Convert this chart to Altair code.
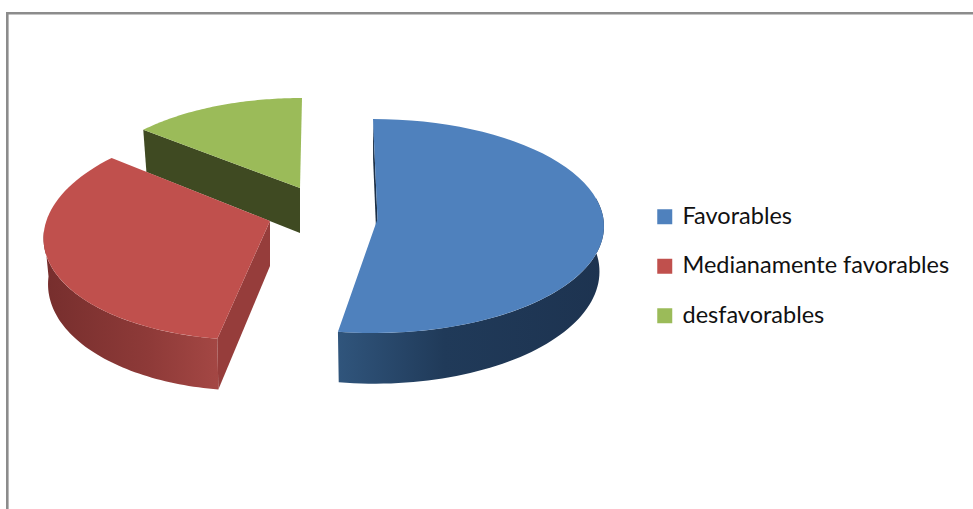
import altair as alt
import numpy as np
import pandas as pd

# Survey shares, percent of answers
categories = ["Favorables", "Medianamente favorables", "desfavorables"]
shares = [52.5, 34.2, 13.3]
top_colors = ["#4F81BD", "#C0504D", "#9BBB59"]

# Projected ellipse of each exploded slice: centre, radii, shear and apex
ellipses = {
    "Favorables": dict(cx=373.5, cy=226, a=230.5, b=107, lean=-0.5, ax=377.5, ay=219),
    "Medianamente favorables": dict(cx=267, cy=231, a=223, b=109, lean=15, ax=270, ay=221),
    "desfavorables": dict(cx=302, cy=194.7, a=214, b=96.7, lean=0, ax=300, ay=188),
}
DEPTH, SHRINK_X, STRETCH_Y = 45, 0.98, 1.05

W, H = 973, 509
x_scale = alt.Scale(domain=[0, W], nice=False, zero=False)
y_scale = alt.Scale(domain=[H, 0], nice=False, zero=False)


def rim(name, start, end):
    e = ellipses[name]
    t = np.radians(np.arange(start, end + 0.01, (end - start) / 60))
    u, v = np.sin(t), np.cos(t)
    return e["cx"] + e["a"] * u + e["lean"] * v, e["cy"] - e["b"] * v


def lower(name, xs, ys):
    e = ellipses[name]
    xs, ys = np.asarray(xs, float), np.asarray(ys, float)
    return e["ax"] + SHRINK_X * (xs - e["ax"]), e["ay"] + DEPTH + STRETCH_Y * (ys - e["ay"])


def frame(xs, ys, name):
    return pd.DataFrame({"x": xs, "y": ys, "i": range(len(xs)), "category": name})


def polygon(df, **mark):
    return alt.Chart(df).mark_line(filled=True, **mark).encode(
        x=alt.X("x:Q", scale=x_scale, axis=None),
        y=alt.Y("y:Q", scale=y_scale, axis=None),
        order="i:Q",
    )


def side(name, start, end):
    tx, ty = rim(name, start, end)
    bx, by = lower(name, tx, ty)
    return frame(np.r_[tx, bx[::-1]], np.r_[ty, by[::-1]], name)


def cut(name, angle):
    e = ellipses[name]
    rx, ry = rim(name, angle, angle + 1)
    px, py = [rx[0], e["ax"]], [ry[0], e["ay"]]
    bx, by = lower(name, px, py)
    return frame(np.r_[px, bx[::-1]], np.r_[py, by[::-1]], name)


def top(name, start, end):
    e = ellipses[name]
    rx, ry = rim(name, start, end)
    return frame(np.r_[e["ax"], rx], np.r_[e["ay"], ry], name)


def shade(*stops):
    return alt.Gradient(
        gradient="linear", x1=0, x2=1, y1=0, y2=0,
        stops=[alt.GradientStop(offset=o, color=c) for o, c in stops],
    )


# Cumulative angles, clockwise from the back of the pie
edges = np.r_[0, np.cumsum(shares)] * 3.6
spans = {c: (edges[i], edges[i + 1]) for i, c in enumerate(categories)}
fav, med, des = categories

color = alt.Color(
    "category:N",
    scale=alt.Scale(domain=categories, range=top_colors),
    legend=alt.Legend(
        title=None, orient="none", legendX=653, legendY=205,
        symbolType="square", symbolSize=225, symbolStrokeWidth=0, symbolOffset=0,
        labelFont="Lato", labelFontSize=23.5, labelColor="#111111", labelLimit=400,
        labelOffset=6, rowPadding=24.5, padding=0,
    ),
)

layers = [
    # Slices are painted back to front so nearer ones overlap
    polygon(cut(des, spans[des][0]), fill="#3F4A22"),
    polygon(top(des, *spans[des])).encode(color=color),
    polygon(side(med, spans[med][0], 270), fill=shade((0, "#762E2D"), (0.6, "#8E3A38"), (1, "#A44744"))),
    polygon(cut(med, spans[med][0]), fill="#963D3B"),
    polygon(top(med, *spans[med])).encode(color=color),
    polygon(cut(fav, 0), fill="#1C3047"),
    polygon(side(fav, 75, spans[fav][1]), fill=shade((0, "#30557C"), (0.4, "#203A59"), (1, "#1D3350"))),
    polygon(top(fav, *spans[fav])).encode(color=color),
]

anchor = pd.DataFrame({"k": [0]})
border = [
    alt.Chart(anchor).mark_rule(color="#8C8C8C", strokeWidth=2.6).encode(
        x=alt.value(7.3), y=alt.value(12), y2=alt.value(H)
    ),
    alt.Chart(anchor).mark_rule(color="#8C8C8C", strokeWidth=2.6).encode(
        x=alt.value(6), x2=alt.value(W), y=alt.value(13.2)
    ),
]

chart = alt.layer(*border, *layers).properties(
    width=W, height=H, padding=0, autosize=alt.AutoSizeParams(type="none"),
).configure_view(stroke=None).resolve_scale(color="shared")

chart.save("out.html", embed_options={"renderer": "svg", "actions": False})
